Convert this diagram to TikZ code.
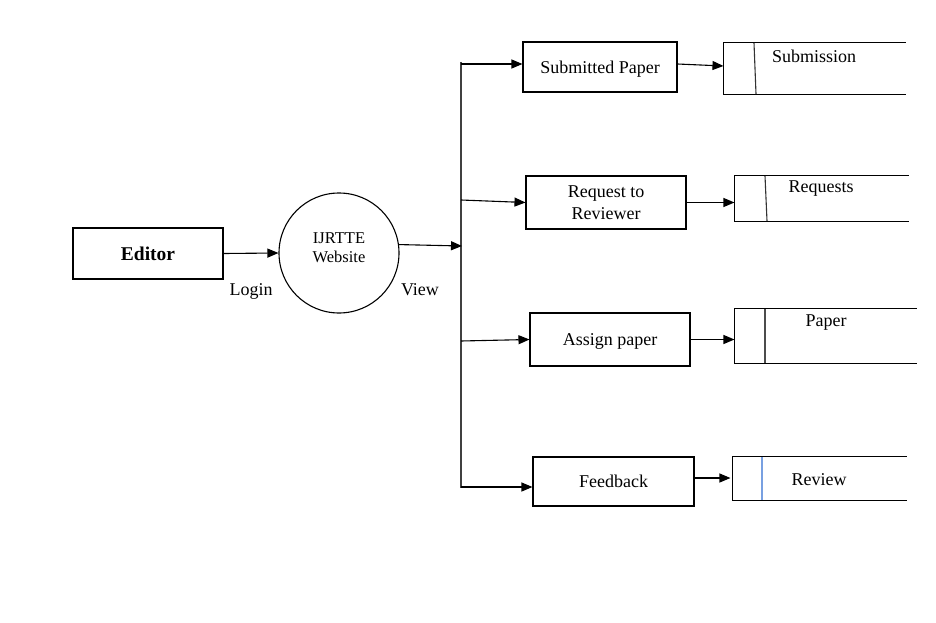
\documentclass[tikz,border=0pt]{standalone}
\usepackage{fontspec}
\setmainfont{Liberation Serif}
\usetikzlibrary{arrows.meta,shapes.geometric}
\begin{document}
\begin{tikzpicture}[x=1pt,y=-1pt,line width=1.1pt,
  txt/.style={font=\fontsize{18}{22}\selectfont,inner sep=0pt,text depth=0pt},
  procbox/.style={draw,rectangle,inner sep=0pt,align=center,text depth=0pt,font=\fontsize{18}{22}\selectfont},
  storebox/.style={rectangle,inner sep=0pt,draw=none},
  flow/.style={-{Triangle[length=11pt,width=9pt]}},
  trunk/.style={draw=black!75}]
\useasboundingbox (0,0) rectangle (936,623);

% entity
\node[procbox,minimum width=150,minimum height=51,font=\bfseries\fontsize{19.5}{23}\selectfont] (ed) at (148,253.5) {Editor};
% process
\node[draw,circle,minimum size=120,inner sep=0pt] (c) at (339,253) {};
\node[align=center,font=\fontsize{16.5}{19}\selectfont,inner sep=0pt] (ctext) at (339,248) {IJRTTE\\Website};

\node[txt] (login) at (251,290) {Login};
\node[txt] (view) at (420,290) {View};

% trunk
\coordinate (ttop) at (461,62);
\coordinate (tbot) at (461,488);
\coordinate (vt) at (462,246);
\coordinate (j1) at (461,64);
\coordinate (j2) at (461,200);
\coordinate (j3) at (461,341);
\coordinate (j4) at (461,487);
\draw[trunk] (ttop) -- (tbot);

\draw[flow] (ed.east) -- (c.west);
\draw[flow] (c.8) -- (vt);

% processes
\node[procbox,minimum width=154,minimum height=50] (b1) at (600,67) {Submitted Paper};
\node[procbox,minimum width=160,minimum height=53] (b2) at (606,202.5) {Request to\\Reviewer};
\node[procbox,minimum width=160,minimum height=53] (b3) at (610,339.5) {Assign paper};
\node[procbox,minimum width=161,minimum height=49] (b4) at (613.5,481.5) {Feedback};

% stores
\node[storebox,minimum width=181,minimum height=51] (s1) at (814.5,68.5) {};
\node[storebox,minimum width=173,minimum height=45] (s2) at (821.5,198.5) {};
\node[storebox,minimum width=181,minimum height=54] (s3) at (825.5,336) {};
\node[storebox,minimum width=173,minimum height=43] (s4) at (819.5,478.5) {};

\foreach \s in {s1,s2,s3,s4}{
  \draw (\s.north east) -- (\s.north west) -- (\s.south west) -- (\s.south east);
}
\draw[black!80] (754,43) -- (756,94);
\draw[black!80] (765,176) -- (767,221);
\draw[black!70] (765,309) -- (765,363);
\draw[color={rgb,255:red,120;green,160;blue,225}] (762,457) -- (762,500);

\node[txt] (t1) at (814,56) {Submission};
\node[txt] (t2) at (821,187) {Requests};
\node[txt] (t3) at (826,321) {Paper};
\node[txt] (t4) at (819,480) {Review};

% branch arrows
\draw[flow] (j1) -- (j1 -| b1.west);
\draw[flow] (j2) -- (b2.west);
\draw[flow] (j3) -- (b3.west);
\draw[flow] (j4) -- (j4 -| b4.west);

\draw[flow] ([yshift=3pt]b1.east) -- ([yshift=2.5pt]s1.west);
\draw[flow] (b2.east) -- (b2.east -| s2.west);
\draw[flow] (b3.east) -- (b3.east -| s3.west);
\draw[flow] ([yshift=3.5pt]b4.east) -- ([yshift=3.5pt,xshift=-2pt]b4.east -| s4.west);
\end{tikzpicture}
\end{document}
